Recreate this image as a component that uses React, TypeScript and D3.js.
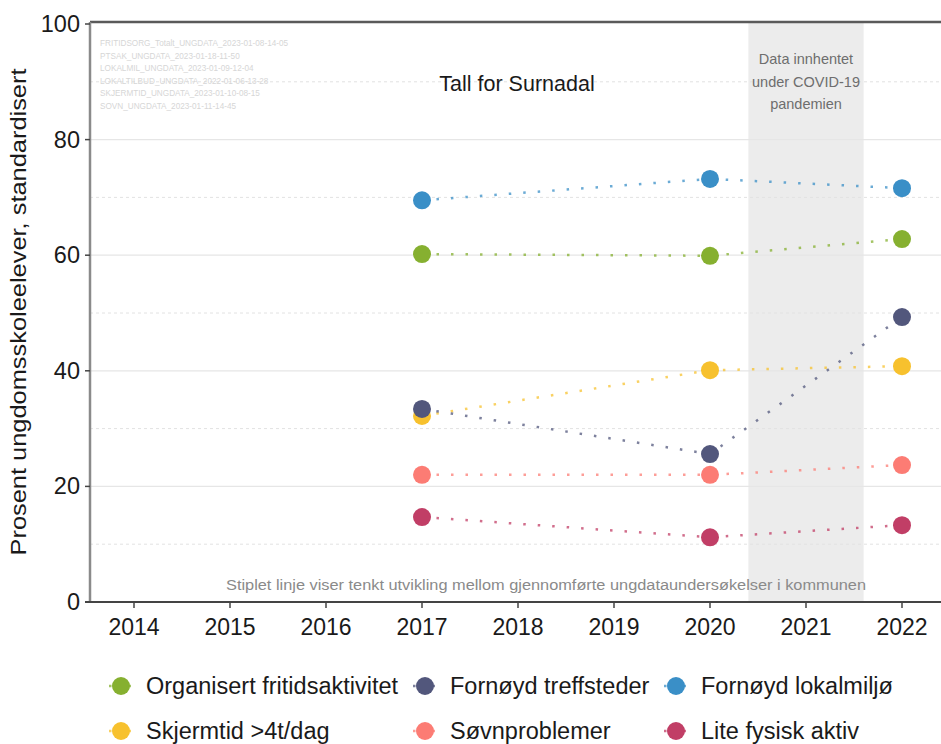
import React from "react";
import * as d3 from "d3";

const years = [2014, 2015, 2016, 2017, 2018, 2019, 2020, 2021, 2022];
const surveyYears = [2017, 2020, 2022];
const yTicks = [0, 20, 40, 60, 80, 100];
const yMinor = [10, 30, 50, 70, 90];

const seriesNames = [
  "Organisert fritidsaktivitet",
  "Fornøyd treffsteder",
  "Fornøyd lokalmiljø",
  "Skjermtid >4t/dag",
  "Søvnproblemer",
  "Lite fysisk aktiv",
];
const seriesColors = ["#86b030", "#52577c", "#3a8fc7", "#f7c12e", "#fc7c74", "#c13e66"];
const organisert = [60.2, 59.9, 62.8];
const treffsteder = [33.4, 25.6, 49.3];
const lokalmiljo = [69.5, 73.2, 71.6];
const skjermtid = [32.2, 40.1, 40.8];
const sovn = [22.0, 22.0, 23.7];
const fysisk = [14.7, 11.2, 13.3];
const seriesValues = [organisert, treffsteder, lokalmiljo, skjermtid, sovn, fysisk];
// draw order (back to front)
const drawOrder = [2, 0, 3, 1, 4, 5];

const covidBand = [2020.4, 2021.6];
const covidText = ["Data innhentet", "under COVID-19", "pandemien"];
const sourceLines = [
  "FRITIDSORG_Totalt_UNGDATA_2023-01-08-14-05",
  "PTSAK_UNGDATA_2023-01-18-11-50",
  "LOKALMIL_UNGDATA_2023-01-09-12-04",
  "LOKALTILBUD_UNGDATA_2022-01-06-13-28",
  "SKJERMTID_UNGDATA_2023-01-10-08-15",
  "SOVN_UNGDATA_2023-01-11-14-45",
];
const title = "Tall for Surnadal";
const note = "Stiplet linje viser tenkt utvikling mellom gjennomførte ungdataundersøkelser i kommunen";
const yLabel = "Prosent ungdomsskoleelever, standardisert";

const W = 941;
const H = 744;
const left = 90;
const right = 941;
const top = 22;
const bottom = 602;
const font = "'Liberation Sans', Arial, sans-serif";

export default function App() {
  const x = d3.scaleLinear().domain([2014, 2022]).range([134, 902]);
  const y = d3.scaleLinear().domain([0, 100]).range([bottom, 24]);
  const line = d3
    .line<[number, number]>()
    .x((d) => x(d[0]))
    .y((d) => y(d[1]));

  const legendCols = [121, 425, 676];
  const legendRows = [686, 731];

  return (
    <svg
      width={W}
      height={H}
      style={{ position: "absolute", left: 0, top: 0, background: "#fff" }}
      fontFamily={font}
    >
      {/* covid band */}
      <rect
        x={x(covidBand[0])}
        y={top}
        width={x(covidBand[1]) - x(covidBand[0])}
        height={bottom - top}
        fill="#ececec"
      />
      {/* grid */}
      {yMinor.map((v) => (
        <line
          key={"mi" + v}
          x1={left}
          x2={right}
          y1={y(v)}
          y2={y(v)}
          stroke="#e2e2e2"
          strokeWidth={1}
          strokeDasharray="3 3"
        />
      ))}
      {yTicks.filter((v) => v > 0 && v < 100).map((v) => (
        <line key={"ma" + v} x1={left} x2={right} y1={y(v)} y2={y(v)} stroke="#e6e6e6" strokeWidth={1.2} />
      ))}
      {/* covid text */}
      {covidText.map((t, i) => (
        <text
          key={t}
          x={x((covidBand[0] + covidBand[1]) / 2)}
          y={64 + i * 22.5}
          textAnchor="middle"
          fontSize={14.5}
          fill="#6e6e6e"
        >
          {t}
        </text>
      ))}
      {/* source lines */}
      {sourceLines.map((t, i) => (
        <text key={t} x={100} y={46 + i * 12.6} fontSize={8.2} fill="#d6d6d6">
          {t}
        </text>
      ))}
      <text x={517} y={91} textAnchor="middle" fontSize={21.5} fill="#1a1a1a">
        {title}
      </text>
      <text x={546} y={590} textAnchor="middle" fontSize={14} fill="#8a8a8a" textLength={640} lengthAdjust="spacingAndGlyphs">
        {note}
      </text>
      {/* lines */}
      {drawOrder.map((si) => (
        <path
          key={"l" + si}
          d={line(surveyYears.map((yr, j) => [yr, seriesValues[si][j]] as [number, number])) || ""}
          fill="none"
          stroke={seriesColors[si]}
          strokeWidth={2.5}
          strokeOpacity={0.75}
          strokeDasharray="2.5 12"
        />
      ))}
      {/* points */}
      {drawOrder.map((si) =>
        surveyYears.map((yr, j) => (
          <circle key={"p" + si + "-" + j} cx={x(yr)} cy={y(seriesValues[si][j])} r={9} fill={seriesColors[si]} />
        ))
      )}
      {/* axes */}
      <line x1={left} x2={right} y1={top} y2={top} stroke="#5a5a5a" strokeWidth={2.5} />
      <line x1={left} x2={left} y1={top} y2={bottom} stroke="#8a8a8a" strokeWidth={2.5} />
      <line x1={left - 5} x2={right} y1={bottom} y2={bottom} stroke="#444" strokeWidth={2} />
      {yTicks.map((v) => (
        <g key={"yt" + v}>
          <line x1={left - 5} x2={left} y1={y(v)} y2={y(v)} stroke="#444" strokeWidth={1.5} />
          <text x={80} y={y(v) + 8} textAnchor="end" fontSize={23.5} fill="#1a1a1a">
            {v}
          </text>
        </g>
      ))}
      {years.map((yr) => (
        <g key={"xt" + yr}>
          <line x1={x(yr)} x2={x(yr)} y1={bottom} y2={bottom + 6} stroke="#444" strokeWidth={1.5} />
          <text x={x(yr)} y={635} textAnchor="middle" fontSize={23} fill="#1a1a1a">
            {yr}
          </text>
        </g>
      ))}
      <text
        transform={`translate(26, ${(top + bottom) / 2}) rotate(-90)`}
        textAnchor="middle"
        fontSize={22}
        fill="#1a1a1a"
        textLength={487}
        lengthAdjust="spacingAndGlyphs"
      >
        {yLabel}
      </text>
      {/* legend */}
      {seriesNames.map((name, i) => {
        const cx = legendCols[i % 3];
        const cy = legendRows[Math.floor(i / 3)];
        return (
          <g key={name}>
            <line x1={cx - 12} x2={cx + 12} y1={cy} y2={cy} stroke={seriesColors[i]} strokeWidth={2.5} strokeDasharray="2.5 4" strokeOpacity={0.75} />
            <circle cx={cx} cy={cy} r={9} fill={seriesColors[i]} />
            <text x={cx + 25} y={cy + 8} fontSize={23.5} fill="#1a1a1a">
              {name}
            </text>
          </g>
        );
      })}
    </svg>
  );
}
